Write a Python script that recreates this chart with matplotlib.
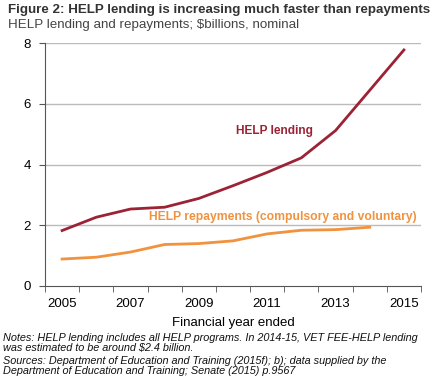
import matplotlib
matplotlib.use("Agg")
import matplotlib.pyplot as plt
import numpy as np

years = list(range(2005, 2016))
lending = [1.82, 2.26, 2.53, 2.59, 2.88, 3.30, 3.74, 4.22, 5.12, 6.45, 7.78]
repay_years = list(range(2005, 2015))
repayments = [0.88, 0.94, 1.11, 1.36, 1.39, 1.48, 1.71, 1.83, 1.85, 1.93]
xtick_labels = ["2005", "2007", "2009", "2011", "2013", "2015"]
yticks = [0, 2, 4, 6, 8]

plt.rcParams['font.family'] = ['Liberation Sans', 'DejaVu Sans']

W, H = 436, 389
fig = plt.figure(figsize=(W/100, H/100), dpi=100)
ax = fig.add_axes([45/W, 1-285.7/H, (421-45)/W, (285.7-43.3)/H])

lend_c = '#9B2335'
rep_c = '#F0923E'
ax.plot(years, lending, color=lend_c, lw=2)
ax.plot(repay_years, repayments, color=rep_c, lw=2)

ax.set_xlim(2004.5, 2015.5)
ax.set_ylim(0, 8)
ax.set_yticks(yticks)
ax.set_yticklabels([str(v) for v in yticks], fontsize=9.5)
ax.set_xticks([int(s) for s in xtick_labels])
ax.set_xticklabels(xtick_labels, fontsize=9.5)
ax.set_xticks(np.arange(2004.5, 2016, 1), minor=True)
ax.tick_params(axis='x', which='major', length=0, pad=9)
ax.tick_params(axis='x', which='minor', length=4, color='#555555')
ax.tick_params(axis='y', length=4, color='#555555', pad=6)
for s in ['top', 'right']:
    ax.spines[s].set_visible(False)
ax.spines['left'].set_color('#555555')
ax.spines['bottom'].set_color('#555555')
for v in [2, 4, 6, 8]:
    ax.axhline(v, color='#BBBBBB', lw=1, zorder=0)

ax.text(2010.1, 5.1, "HELP lending", color=lend_c, fontsize=8.6, fontweight='bold', va='center', ha='left')
ax.text(2007.55, 2.28, "HELP repayments (compulsory and voluntary)", color=rep_c, fontsize=8.75, fontweight='bold', va='center', ha='left')

ax.set_xlabel("Financial year ended", fontsize=9.5, labelpad=5)

fig.text(8/W, 1-10/H, "Figure 2: HELP lending is increasing much faster than repayments",
         fontsize=9.6, fontweight='bold', color='#333333', va='center', ha='left')
fig.text(8/W, 1-25/H, "HELP lending and repayments; $billions, nominal",
         fontsize=9.6, color='#444444', va='center', ha='left')

note_lines = ["Notes: HELP lending includes all HELP programs. In 2014-15, VET FEE-HELP lending",
              "was estimated to be around $2.4 billion.",
              "Sources: Department of Education and Training (2015f); b); data supplied by the",
              "Department of Education and Training; Senate (2015) p.9567"]
note_y = [338, 348, 361, 371]
for line, yy in zip(note_lines, note_y):
    fig.text(3/W, 1-yy/H, line, fontsize=7.85, style='italic', color='#111111', va='center', ha='left')

fig.savefig("out.png", dpi=100)
